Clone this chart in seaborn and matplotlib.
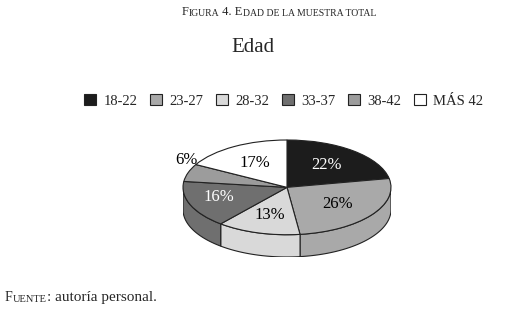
import numpy as np
import matplotlib.pyplot as plt
from matplotlib.patches import Patch
import seaborn as sns

sns.set_style("white")
plt.rcParams['font.family'] = ['Liberation Serif', 'DejaVu Serif']

# data
categories = ["18-22", "23-27", "28-32", "33-37", "38-42", "MÁS 42"]
values = [22, 26, 13, 16, 6, 17]
colors = ["#1c1c1c", "#a9a9a9", "#d9d9d9", "#6f6f6f", "#9c9c9c", "#ffffff"]
label_colors = ["white", "black", "black", "white", "black", "black"]

fig = plt.figure(figsize=(5.06, 3.10), dpi=100)

# pie axes: top ellipse + walls
depth = 0.47
ax = fig.add_axes([183 / 506, 1 - 257 / 310, 208 / 506, 117 / 310])
wedges, texts, autotexts = ax.pie(
    values, colors=colors, startangle=90, counterclock=False,
    autopct="%d%%", pctdistance=0.6,
    wedgeprops=dict(edgecolor="#222222", linewidth=0.8, zorder=3),
    textprops=dict(fontsize=12),
)
for t, c in zip(autotexts, label_colors):
    t.set_color(c)
    t.set_zorder(5)
# small slice label sits outside on the left
autotexts[4].set_position((-0.97, 0.57))
autotexts[3].set_position((-0.66, -0.2))

# side walls (front half only)
for w, c in zip(wedges, colors):
    t1, t2 = sorted([w.theta1, w.theta2])
    t1, t2 = t1 % 360, t1 % 360 + (t2 - t1)
    lo, hi = max(t1, 180), min(t2, 360)
    if hi <= lo:
        lo, hi = max(t1 - 360, 180), min(t2 - 360, 360)
    if hi <= lo:
        continue
    th = np.radians(np.linspace(lo, hi, 60))
    xs = np.concatenate([np.cos(th), np.cos(th[::-1])])
    ys = np.concatenate([np.sin(th), np.sin(th[::-1]) - depth])
    ax.fill(xs, ys, facecolor=c, edgecolor="#222222", linewidth=0.8, zorder=1)

ax.set_aspect("auto")
ax.set_xlim(-1, 1)
ax.set_ylim(-1 - depth, 1)
ax.axis("off")

fig.text(0.5, 1 - 47 / 310, "Edad", ha="center", va="center", fontsize=15,
         family="Liberation Serif")


def small_caps(x, y, parts):
    # parts: list of (text, size), chained left to right
    items = [fig.text(x, y, parts[0][0], ha="left", va="bottom", fontsize=parts[0][1])]
    for txt, size in parts[1:]:
        items.append(ax.annotate(txt, xy=(1, 0), xycoords=items[-1], va="bottom",
                                 ha="left", fontsize=size, annotation_clip=False))
    return items


small_caps(182 / 506, 1 - 18 / 310,
           [("F", 9), ("IGURA", 7), (" 4. E", 9), ("DAD DE LA MUESTRA TOTAL", 7)])
small_caps(5 / 506, 1 - 304 / 310,
           [("F", 10), ("UENTE", 7.5), (": autoría personal.", 11)])

handles = [Patch(facecolor=c, edgecolor="#222222", linewidth=0.8) for c in colors]
fig.legend(handles, categories, loc="center", bbox_to_anchor=(0.561, 1 - 101 / 310),
           ncol=6, frameon=False, fontsize=10.5, handlelength=0.8, handleheight=0.8,
           handletextpad=0.5, columnspacing=0.9)

fig.savefig("out.png", dpi=100)
